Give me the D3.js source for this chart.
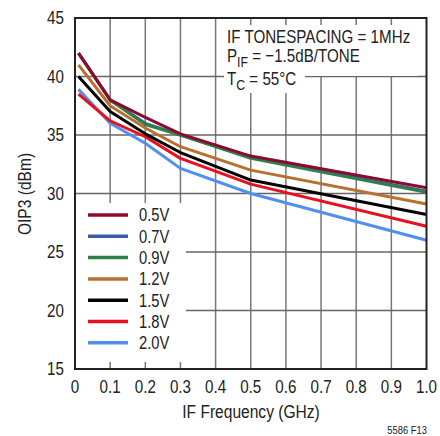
<!DOCTYPE html>
<html><head><meta charset="utf-8">
<script src="https://cdn.jsdelivr.net/npm/d3@7"></script>
<style>
html,body{margin:0;padding:0;background:#fff;}
text{font-family:"Liberation Sans","Arial",sans-serif;fill:#222;}
</style></head>
<body><svg id="c" width="440" height="436"></svg>
<script>
const freqs = [0.01, 0.1, 0.2, 0.3, 0.5, 1.0];
const seriesNames = ["0.5V","0.7V","0.9V","1.2V","1.5V","1.8V","2.0V"];
const seriesColors = ["#8c0a2e","#3b5aa6","#2f7f4c","#b8702f","#000000","#e8101e","#4f8ff2"];
const v05 = [42.0, 38.0, 36.5, 35.1, 33.2, 30.5];
const v07 = [42.0, 38.0, 36.0, 35.0, 33.1, 30.2];
const v09 = [42.0, 38.0, 35.9, 35.0, 33.0, 30.1];
const v12 = [41.0, 37.5, 35.6, 34.0, 32.0, 29.1];
const v15 = [40.0, 37.0, 35.1, 33.5, 31.15, 28.2];
const v18 = [38.5, 36.2, 34.85, 33.0, 30.8, 27.2];
const v20 = [38.9, 36.0, 34.3, 32.15, 30.0, 26.0];
const seriesValues = [v05, v07, v09, v12, v15, v18, v20];
const xTicks = [0,0.1,0.2,0.3,0.4,0.5,0.6,0.7,0.8,0.9,1.0];
const yTicks = [15,20,25,30,35,40,45];

const F = 0.82; // narrow-font emulation
function narrow(sel){ const x0 = +sel.attr("x"); sel.attr("transform",`translate(${x0*(1-F)},0) scale(${F},1)`); return sel; }

const svg = d3.select("#c");
const L=75, R=426.5, T=18, B=369;
const x = d3.scaleLinear().domain([0,1]).range([L,R]);
const y = d3.scaleLinear().domain([15,45]).range([B,T]);

// grid
const g = svg.append("g");
g.selectAll(".vg").data(xTicks.slice(1,-1)).enter().append("line")
  .attr("x1",d=>x(d)).attr("x2",d=>x(d)).attr("y1",T).attr("y2",B)
  .attr("stroke","#777").attr("stroke-width",1.5);
g.selectAll(".hg").data(yTicks.slice(1,-1)).enter().append("line")
  .attr("x1",L).attr("x2",R).attr("y1",d=>y(d)).attr("y2",d=>y(d))
  .attr("stroke","#666").attr("stroke-width",1.3);

// white masks for annotation and legend
svg.append("rect").attr("x",224).attr("y",25).attr("width",194).attr("height",51).attr("fill","#fff");
svg.append("rect").attr("x",224).attr("y",76).attr("width",81).attr("height",17).attr("fill","#fff");
svg.append("rect").attr("x",L+1).attr("y",203).attr("width",110).attr("height",159).attr("fill","#fff");

// lines
const line = d3.line().x((d,i)=>x(freqs[i])).y(d=>y(d));
const order = [6,5,4,3,1,2,0];
order.forEach(i=>{
  svg.append("path").attr("d",line(seriesValues[i])).attr("fill","none")
    .attr("stroke",seriesColors[i]).attr("stroke-width",3).attr("stroke-linejoin","round");
});

// frame
svg.append("rect").attr("x",L).attr("y",T).attr("width",R-L).attr("height",B-T)
  .attr("fill","none").attr("stroke","#222").attr("stroke-width",2);

// axes labels
svg.selectAll(".xt").data(xTicks).enter().append("text")
  .attr("x",d=>x(d)).attr("y",393).attr("text-anchor","middle")
  .attr("font-size",18.5).text(d=>d===0?"0":d.toFixed(1))
  .each(function(){ narrow(d3.select(this)); });
svg.selectAll(".yt").data(yTicks).enter().append("text")
  .attr("x",64).attr("y",d=>y(d)+6.5).attr("text-anchor","end")
  .attr("font-size",18.5).text(d=>d)
  .each(function(){ narrow(d3.select(this)); });
narrow(svg.append("text").attr("x",251).attr("y",418).attr("text-anchor","middle")
  .attr("font-size",19).text("IF Frequency (GHz)"));
svg.append("text").attr("x",0).attr("y",0)
  .attr("transform",`translate(31,194) rotate(-90) scale(${F},1)`).attr("text-anchor","middle")
  .attr("font-size",19).text("OIP3 (dBm)");
narrow(svg.append("text").attr("x",427).attr("y",434).attr("text-anchor","end")
  .attr("font-size",11.5).text("5586 F13"));

// annotation
narrow(svg.append("text").attr("x",227).attr("y",43).attr("font-size",18.5).text("IF TONESPACING = 1MHz"));
const t2 = narrow(svg.append("text").attr("x",227).attr("y",62).attr("font-size",18.5));
t2.append("tspan").text("P");
t2.append("tspan").attr("dy",5).attr("font-size",15).text("IF");
t2.append("tspan").attr("dy",-5).text(" = \u22121.5dB/TONE");
const t3 = narrow(svg.append("text").attr("x",227).attr("y",85).attr("font-size",18.5));
t3.append("tspan").text("T");
t3.append("tspan").attr("dy",5).attr("font-size",15).text("C");
t3.append("tspan").attr("dy",-5).text(" = 55\u00B0C");

// legend
const lg = svg.append("g");
seriesNames.forEach((n,i)=>{
  const yy = 215 + i*21.3;
  lg.append("line").attr("x1",88).attr("x2",128).attr("y1",yy).attr("y2",yy)
    .attr("stroke",seriesColors[i]).attr("stroke-width",3.5);
  narrow(lg.append("text").attr("x",139).attr("y",yy+6.5).attr("font-size",18).text(n));
});
</script></body></html>
